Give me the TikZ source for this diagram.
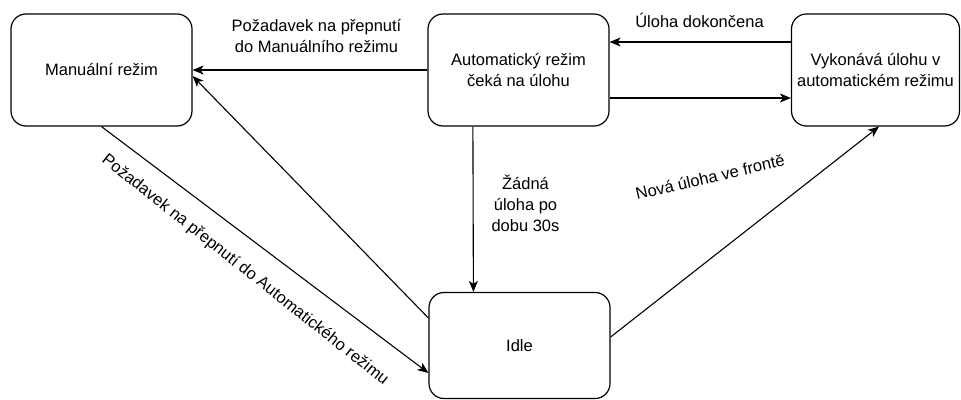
\documentclass[tikz,border=0pt]{standalone}
\usepackage{fontspec}
\setmainfont{Liberation Sans}
\usetikzlibrary{arrows.meta}
\begin{document}
\begin{tikzpicture}[x=1pt,y=-1pt,
  state/.style={draw, line width=1.2pt, rounded corners=15pt, align=center, inner sep=0pt},
  lbl/.style={align=center, inner sep=0pt},
  conn/.style={line width=1.1pt, -{Stealth[length=11pt,width=9pt,inset=3pt]}},
  every node/.style={font=\fontsize{16.5}{21}\selectfont}]
\useasboundingbox (0,0) rectangle (961,399);
\node[state, minimum width=181pt, minimum height=112pt] (man) at (101.5,70) {Manuální režim};
\node[state, minimum width=181pt, minimum height=112pt] (auto) at (518.5,70) {Automatický režim\\čeká na úlohu};
\node[state, minimum width=168pt, minimum height=112pt] (vyk) at (875.5,70) {Vykonává úlohu v\\automatickém režimu};
\node[state, minimum width=181pt, minimum height=106pt] (idle) at (519.5,345.5) {Idle};

\draw[conn] (auto.west) -- (man.east);
\draw[conn] ([yshift=28pt]vyk.west) -- ([yshift=28pt]auto.east);
\draw[conn] ([yshift=-28pt]auto.east) -- ([yshift=-28pt]vyk.west);
\draw[conn] ([xshift=45.5pt]auto.south west) -- ([xshift=45pt]idle.north west);
\draw[conn] ([yshift=27.5pt]idle.west) -- ([yshift=-6pt]man.east);
\draw[conn] (man.south) -- ([yshift=-27.5pt]idle.west);
\draw[conn] ([yshift=8.5pt]idle.east) -- ([xshift=3.5pt]vyk.south);

\node[lbl] (l1) at (316.5,36) {Požadavek na přepnutí\\do Manuálního režimu};
\node[lbl] (l2) at (699.5,20) {Úloha dokončena};
\node[lbl] (l3) at (525.5,203) {Žádná\\úloha po\\dobu 30s};
\node[lbl, rotate=13] (l4) at (710,177) {Nová úloha ve frontě};
\node[lbl, rotate=-38.4] (l5) at (245,270) {Požadavek na přepnutí do Automatického režimu};
\end{tikzpicture}
\end{document}
